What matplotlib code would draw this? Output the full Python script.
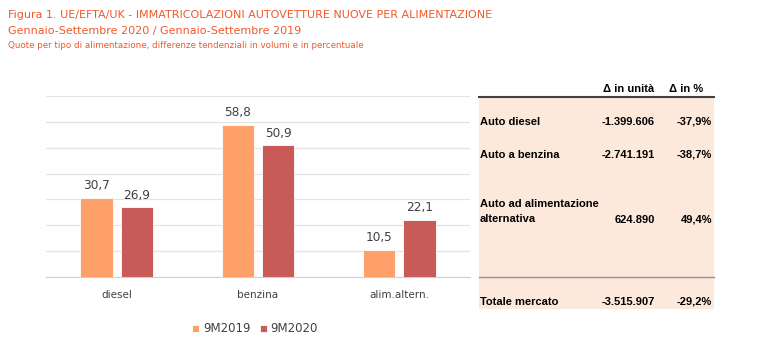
import numpy as np
import matplotlib.pyplot as plt
from matplotlib.patches import Rectangle

# data
categories = ['diesel', 'benzina', 'alim.altern.']
quota_2019 = [30.7, 58.8, 10.5]
quota_2020 = [26.9, 50.9, 22.1]
series_names = ['9M2019', '9M2020']

row_labels = ['Auto diesel', 'Auto a benzina', 'Auto ad alimentazione\nalternativa']
delta_units = ['-1.399.606', '-2.741.191', '624.890']
delta_pct = ['-37,9%', '-38,7%', '49,4%']
total_label = 'Totale mercato'
total_units = '-3.515.907'
total_pct = '-29,2%'

title1 = 'Figura 1. UE/EFTA/UK - IMMATRICOLAZIONI AUTOVETTURE NUOVE PER ALIMENTAZIONE'
title2 = 'Gennaio-Settembre 2020 / Gennaio-Settembre 2019'
title3 = 'Quote per tipo di alimentazione, differenze tendenziali in volumi e in percentuale'

W, H = 758, 354
c19 = '#FFA06A'
c20 = '#C85A58'
orange = '#F0592A'

fig = plt.figure(figsize=(W/100, H/100), dpi=100)

# overlay axes in pixel coordinates for titles and table
ov = fig.add_axes([0, 0, 1, 1])
ov.set_xlim(0, W)
ov.set_ylim(H, 0)
ov.axis('off')

ov.text(8, 15, title1, color=orange, fontsize=8.0, va='center', ha='left')
ov.text(8, 31, title2, color=orange, fontsize=8.0, va='center', ha='left')
ov.text(8, 46, title3, color=orange, fontsize=6.3, va='center', ha='left')

# bar chart
ax = fig.add_axes([46/W, (H-277)/H, 424/W, (277-96)/H])
x = np.arange(len(categories))
w = 0.23
off = 0.143
b1 = ax.bar(x - off, quota_2019, w, color=c19, edgecolor='white', linewidth=0.6, label=series_names[0], zorder=3)
b2 = ax.bar(x + off, quota_2020, w, color=c20, edgecolor='white', linewidth=0.6, label=series_names[1], zorder=3)
for bars, vals in ((b1, quota_2019), (b2, quota_2020)):
    for r, v in zip(bars, vals):
        ax.text(r.get_x() + r.get_width()/2, v + 2.2, f'{v:.1f}'.replace('.', ','),
                ha='center', va='bottom', fontsize=8.7, color='#404040')
ax.set_xlim(-0.5, 2.5)
ax.set_ylim(0, 70)
ax.set_yticks(np.arange(0, 71, 10))
ax.yaxis.grid(True, color='#E3E3E3', linewidth=0.9, zorder=0)
ax.set_yticklabels([])
ax.tick_params(axis='y', length=0)
ax.tick_params(axis='x', length=0, pad=9, labelsize=7.5, labelcolor='#404040')
ax.set_xticks(x)
ax.set_xticklabels(categories)
for s in ['top', 'right', 'left']:
    ax.spines[s].set_visible(False)
ax.spines['bottom'].set_color('#D0D0D0')
ax.set_facecolor('none')
ax.legend(loc='center', bbox_to_anchor=(255/W, (H-329)/H), bbox_transform=fig.transFigure,
          ncol=2, frameon=False, fontsize=8.5, handlelength=0.6, handleheight=0.6,
          handletextpad=0.3, columnspacing=0.8, labelcolor='#404040')

# table
tfont = dict(family='Liberation Sans', fontweight='bold', fontsize=8, color='black')
ov.add_patch(Rectangle((479, 97), 235, 212, facecolor='#FDE9DB', edgecolor='none', zorder=1))
ov.plot([479, 714], [97, 97], color='#404040', linewidth=1.5, zorder=2)
ov.plot([479, 714], [277, 277], color='#909090', linewidth=1.0, zorder=2)
ov.text(629, 89, '\u0394 in unità', ha='center', va='center', **tfont)
ov.text(686, 89, '\u0394 in %', ha='center', va='center', **tfont)
row_y = [122, 154.5, 211.5]
for lab, du, dp, y in zip(row_labels, delta_units, delta_pct, row_y):
    ov.text(480, y, lab, ha='left', va='center', linespacing=1.7, zorder=3, **tfont)
    yy = y + 8.5 if '\n' in lab else y
    ov.text(655, yy, du, ha='right', va='center', zorder=3, **tfont)
    ov.text(712, yy, dp, ha='right', va='center', zorder=3, **tfont)
ov.text(480, 302, total_label, ha='left', va='center', zorder=3, **tfont)
ov.text(655, 302, total_units, ha='right', va='center', zorder=3, **tfont)
ov.text(712, 302, total_pct, ha='right', va='center', zorder=3, **tfont)

fig.savefig('out.png', dpi=100)
